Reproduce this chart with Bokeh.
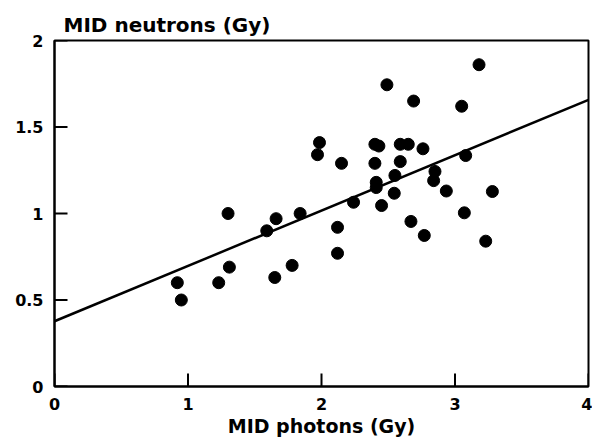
from bokeh.plotting import figure
from bokeh.models import FixedTicker, Range1d
from bokeh.embed import file_html
from bokeh.resources import INLINE

# MID photons (Gy) vs MID neutrons (Gy)
photons = [0.92, 0.95, 1.23, 1.30, 1.31, 1.59, 1.65, 1.66, 1.78, 1.84,
           1.97, 1.985, 2.12, 2.12, 2.15, 2.24, 2.40, 2.43, 2.40, 2.41,
           2.41, 2.45, 2.49, 2.55, 2.545, 2.59, 2.59, 2.65, 2.67, 2.69,
           2.76, 2.77, 2.85, 2.84, 2.935, 3.05, 3.07, 3.08, 3.18, 3.23, 3.28]
neutrons = [0.60, 0.50, 0.60, 1.00, 0.69, 0.90, 0.63, 0.97, 0.70, 1.00,
            1.34, 1.41, 0.92, 0.77, 1.29, 1.065, 1.40, 1.39, 1.29, 1.18,
            1.15, 1.046, 1.744, 1.22, 1.117, 1.40, 1.30, 1.40, 0.954, 1.65,
            1.374, 0.873, 1.243, 1.19, 1.13, 1.62, 1.004, 1.335, 1.86, 0.84, 1.127]

# regression line
fit_intercept = 0.377
fit_slope = 0.32
fit_x = [0, 4]

x_ticks = [0, 1, 2, 3, 4]
y_ticks = [0, 0.5, 1, 1.5, 2]
x_title = "MID photons (Gy)"
y_title = "MID neutrons (Gy)"

FONT = "DejaVu Sans"
X0, X1, Y0, Y1 = 0, 4, 0, 2
W, H = 592, 441
BL, BR, BT, BB = 54, 4, 40, 55
TICK_PX = 13

p = figure(width=W, height=H, output_backend="svg", toolbar_location=None,
           x_range=Range1d(X0, X1), y_range=Range1d(Y0, Y1),
           min_border_left=BL, min_border_right=BR, min_border_top=BT,
           min_border_bottom=BB)
p.background_fill_color = "white"
p.border_fill_color = "white"
p.outline_line_color = "black"
p.outline_line_width = 2
p.grid.visible = False

p.title.text = y_title
p.title.align = "left"
p.title.offset = 9
p.title.standoff = 8
p.title.text_font = FONT
p.title.text_font_style = "bold"
p.title.text_font_size = "20px"
p.title.text_color = "black"

for ax in (p.xaxis[0], p.yaxis[0]):
    ax.axis_line_width = 2
    ax.axis_line_color = "black"
    ax.major_tick_in = 0
    ax.major_tick_out = 0
    ax.minor_tick_line_color = None
    ax.major_label_text_font = FONT
    ax.major_label_text_font_style = "bold"
    ax.major_label_text_font_size = "16px"
    ax.major_label_text_color = "black"

p.xaxis.ticker = FixedTicker(ticks=x_ticks)
p.yaxis.ticker = FixedTicker(ticks=y_ticks)
p.xaxis.major_label_standoff = 11
p.yaxis.major_label_standoff = 11
p.xaxis.major_label_overrides = {0: "0", 1: "1", 2: "2", 3: "3", 4: "4"}
p.yaxis.major_label_overrides = {0: "0", 0.5: "0.5", 1: "1", 1.5: "1.5", 2: "2"}

p.xaxis.axis_label = x_title
p.xaxis.axis_label_standoff = 2
p.xaxis.axis_label_text_font = FONT
p.xaxis.axis_label_text_font_style = "bold"
p.xaxis.axis_label_text_font_size = "19px"
p.xaxis.axis_label_text_color = "black"

# inward tick marks: filled bars centred on the axes, outer half clipped by the frame
p.rect(x=x_ticks, y=[Y0] * len(x_ticks), width=2, height=2 * TICK_PX,
       width_units="screen", height_units="screen",
       fill_color="black", line_color=None)
p.rect(x=[X0] * len(y_ticks), y=y_ticks, width=2 * TICK_PX, height=2,
       width_units="screen", height_units="screen",
       fill_color="black", line_color=None)

fit_y = [fit_intercept + fit_slope * v for v in fit_x]
p.line(fit_x, fit_y, line_color="black", line_width=2.5)
p.scatter(photons, neutrons, size=12, fill_color="black", line_color="black")

open("out.html", "w").write(file_html(p, INLINE))
